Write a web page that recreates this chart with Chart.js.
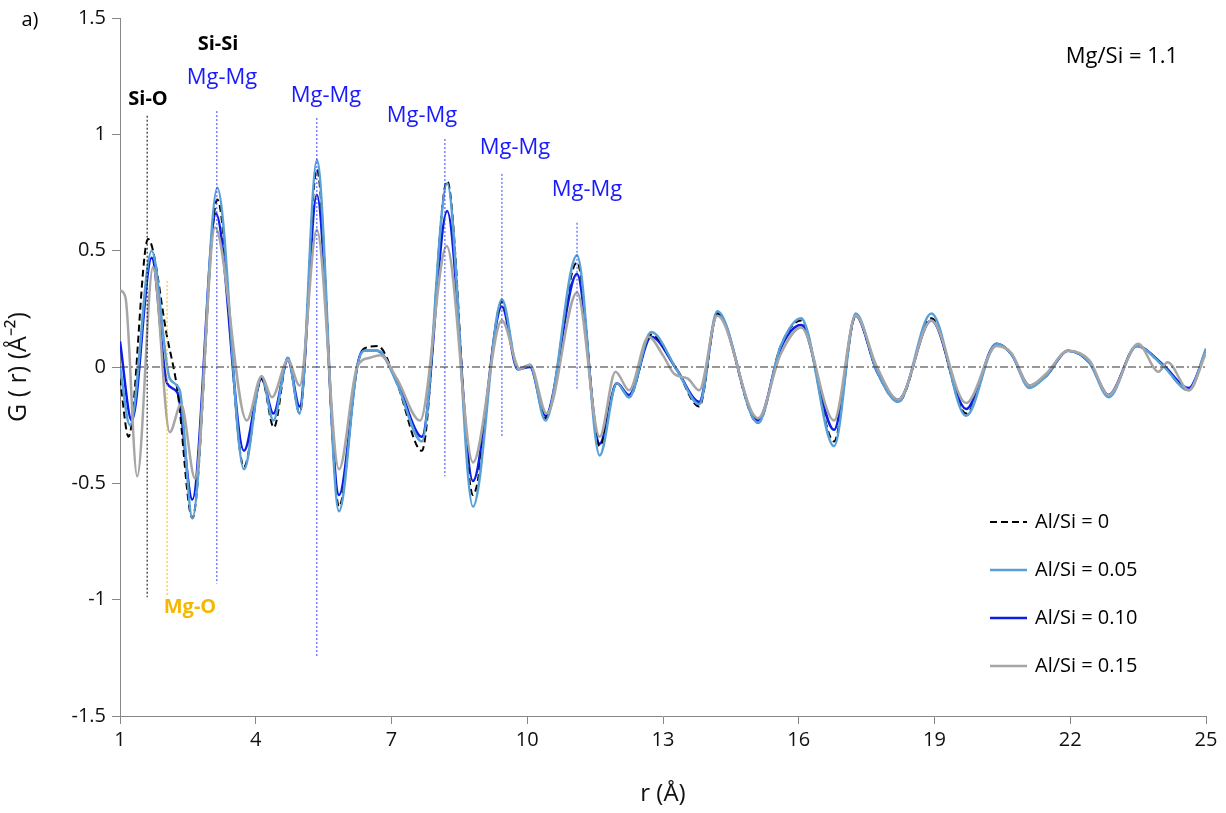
<!DOCTYPE html>
<html><head><meta charset="utf-8">
<script src="https://cdn.jsdelivr.net/npm/chart.js@4"></script>
<style>html,body{margin:0;background:#fff}#w{width:1226px;height:813px}</style>
</head><body><div id="w"><canvas id="c"></canvas></div>
<script>
const xTicks=[1,4,7,10,13,16,19,22,25];
const tailX=[10.4,11.1,11.6,11.98,12.25,12.74,13.3,13.8,14.2,15.1,15.6,16.05,16.78,17.26,17.73,18.2,18.93,19.7,20.37,20.7,21.1,21.46,21.95,22.42,22.85,23.47,24.05,24.62,25];
// Al/Si = 0
const headX0=[1,1.19,1.62,2.04,2.27,2.6,3.15,3.74,4.13,4.4,4.71,4.97,5.35,5.84,6.24,6.4,6.7,7.12,7.67,8.23,8.8,9.44,9.8,10.06];
const headY0=[-0.05,-0.3,0.55,0.13,-0.1,-0.65,0.72,-0.43,-0.05,-0.26,0.04,-0.2,0.85,-0.6,0,0.08,0.09,-0.07,-0.36,0.8,-0.55,0.28,-0.01,0.01];
const tailY0=[-0.22,0.45,-0.34,-0.07,-0.13,0.14,-0.01,-0.17,0.23,-0.24,0.09,0.2,-0.32,0.22,-0.02,-0.15,0.21,-0.2,0.1,0.055,-0.08,-0.04,0.07,0.02,-0.12,0.09,0.005,-0.1,0.07];
// Al/Si = 0.05
const headX1=[1,1.22,1.7,2.1,2.32,2.6,3.15,3.74,4.13,4.39,4.71,4.97,5.35,5.84,6.24,6.4,6.7,7.12,7.67,8.23,8.8,9.44,9.8,10.06];
const headY1=[0,-0.25,0.5,-0.05,-0.1,-0.65,0.77,-0.44,-0.04,-0.23,0.04,-0.2,0.89,-0.62,0,0.07,0.07,-0.07,-0.32,0.79,-0.6,0.29,-0.01,0.01];
const tailY1=[-0.23,0.48,-0.38,-0.07,-0.13,0.15,-0.01,-0.16,0.24,-0.24,0.09,0.21,-0.34,0.23,-0.02,-0.15,0.23,-0.21,0.1,0.055,-0.09,-0.04,0.07,0.02,-0.13,0.09,0.005,-0.1,0.08];
// Al/Si = 0.10
const headX2=[1,1.26,1.7,2.04,2.27,2.6,3.12,3.74,4.13,4.39,4.71,4.97,5.35,5.84,6.24,6.36,6.68,7.12,7.67,8.23,8.8,9.44,9.79,10.06];
const headY2=[0.11,-0.23,0.47,-0.07,-0.11,-0.57,0.66,-0.36,-0.05,-0.2,0.03,-0.17,0.74,-0.55,0,0.07,0.07,-0.06,-0.3,0.67,-0.49,0.26,-0.01,0];
const tailY2=[-0.21,0.40,-0.33,-0.07,-0.12,0.13,-0.01,-0.15,0.23,-0.23,0.08,0.18,-0.27,0.22,-0.02,-0.14,0.2,-0.18,0.1,0.055,-0.08,-0.04,0.07,0.02,-0.12,0.09,0.01,-0.09,0.07];
// Al/Si = 0.15
const rX3=[1,1.12,1.38,1.73,2.1,2.35,2.66,3.1,3.8,4.13,4.36,4.71,4.97,5.35,5.84,6.24,6.53,6.75,7.12,7.63,8.22,8.8,9.44,9.84,10.06,10.43,11.1,11.6,11.95,12.25,12.68,13.0,13.25,13.55,13.8,14.2,15.1,15.6,16.05,16.78,17.26,17.73,18.2,18.93,19.7,20.37,20.7,21.1,21.46,21.95,22.42,22.85,23.5,23.95,24.15,24.62,25];
const gY3=[0.33,0.3,-0.47,0.43,-0.28,-0.16,-0.48,0.6,-0.23,-0.04,-0.13,0.03,-0.08,0.59,-0.44,0,0.04,0.05,-0.05,-0.23,0.52,-0.41,0.2,-0.01,0.01,-0.2,0.32,-0.3,-0.02,-0.1,0.13,0.05,-0.03,-0.05,-0.1,0.22,-0.22,0.055,0.17,-0.23,0.22,0.0,-0.14,0.2,-0.155,0.09,0.06,-0.08,-0.03,0.07,0.03,-0.12,0.1,-0.02,0.02,-0.1,0.06];
// marker lines [x, yTop, yBottom]
const markSiO=[1.6,1.08,-0.99];
const markMgO=[2.04,0.37,-0.99];
const markMgMg=[[3.14,1.1,-0.93],[5.35,1.07,-1.25],[8.18,0.98,-0.47],[9.44,0.83,-0.3],[11.1,0.62,-0.1]];
const legendLabels=['Al/Si = 0','Al/Si = 0.05','Al/Si = 0.10','Al/Si = 0.15'];

const pts=(xs,ys)=>xs.map((x,i)=>({x,y:ys[i]}));
const F='"Open Sans", sans-serif';
const curve=(label,data,color,w,dash)=>({label,data,borderColor:color,borderWidth:w,borderDash:dash||[],pointRadius:0,cubicInterpolationMode:'monotone',fill:false});
const vline=(m,color)=>({label:'',data:[{x:m[0],y:m[1]},{x:m[0],y:m[2]}],borderColor:color,borderWidth:1,borderDash:[2,2],pointRadius:0,fill:false});
const ds=[
 vline(markSiO,'#000'),vline(markMgO,'#f5b800'),
 ...markMgMg.map(m=>vline(m,'#3344ff')),
 {label:'',data:[{x:1,y:0},{x:25,y:0}],borderColor:'#333',borderWidth:1,borderDash:[8,3,2,3],pointRadius:0},
 curve(legendLabels[3],pts(rX3,gY3),'#a6a6a6',2.5),
 curve(legendLabels[1],pts(headX1.concat(tailX),headY1.concat(tailY1)),'#5aa0d8',2.5),
 curve(legendLabels[0],pts(headX0.concat(tailX),headY0.concat(tailY0)),'#000',2,[7,4]),
 curve(legendLabels[2],pts(headX2.concat(tailX),headY2.concat(tailY2)),'#0a1ee8',2.5),
];
const textPlugin={id:'txt',afterDraw(ch){
 const c=ch.ctx;
 c.save();c.textAlign='center';c.textBaseline='middle';
 const t=(s,x,y,col,bold,sz)=>{c.fillStyle=col;c.font=(bold?'bold ':'')+(sz||20)+'px '+F;c.fillText(s,x,y);};
 t('Si-O',148,99,'#000',true,20);
 t('Si-Si',218,44,'#000',true,20);
 [[222,78],[326,96],[422,116],[515,148],[587,190]].forEach(p=>t('Mg-Mg',p[0],p[1],'#1a1aff',false,22));
 t('Mg-O',190,607,'#f5b800',true,20);
 t('Mg/Si = 1.1',1122,57,'#000',false,22);
 t('a)',30,20,'#000',false,20);
 const L=[[legendLabels[0],'#000',[7,4],2],[legendLabels[1],'#5aa0d8',[],2.5],[legendLabels[2],'#0a1ee8',[],2.5],[legendLabels[3],'#a6a6a6',[],2.5]];
 L.forEach((l,i)=>{const y=522+i*48;c.strokeStyle=l[1];c.setLineDash(l[2]);c.lineWidth=l[3];c.beginPath();c.moveTo(990,y);c.lineTo(1027,y);c.stroke();c.setLineDash([]);
  c.textAlign='left';c.fillStyle='#000';c.font='20px '+F;c.fillText(l[0],1035,y);});
 c.restore();}};
new Chart(document.getElementById('c'),{type:'line',data:{datasets:ds},plugins:[textPlugin],
options:{responsive:true,maintainAspectRatio:false,animation:false,
 layout:{padding:{top:18,right:20,left:0,bottom:0}},
 plugins:{legend:{display:false},tooltip:{enabled:false}},
 scales:{
  x:{type:'linear',min:1,max:25,afterBuildTicks:a=>{a.ticks=xTicks.map(v=>({value:v}));},
   grid:{drawOnChartArea:false,tickLength:8,color:'#888'},border:{color:'#888'},
   ticks:{font:{size:20,family:F},color:'#111',padding:4},
   title:{display:true,text:'r (Å)',font:{size:24,family:F},color:'#111',padding:{top:10}},
   afterFit:a=>{a.height=97;}},
  y:{min:-1.5,max:1.5,ticks:{stepSize:0.5,font:{size:20,family:F},color:'#111',padding:6,callback:v=>String(v)},
   grid:{drawOnChartArea:false,tickLength:8,color:'#888'},border:{color:'#888'},
   title:{display:true,text:'G ( r) (Å⁻²)',font:{size:25,family:F},color:'#111'},
   afterFit:a=>{a.width=120;}}
 }}});
</script></body></html>
